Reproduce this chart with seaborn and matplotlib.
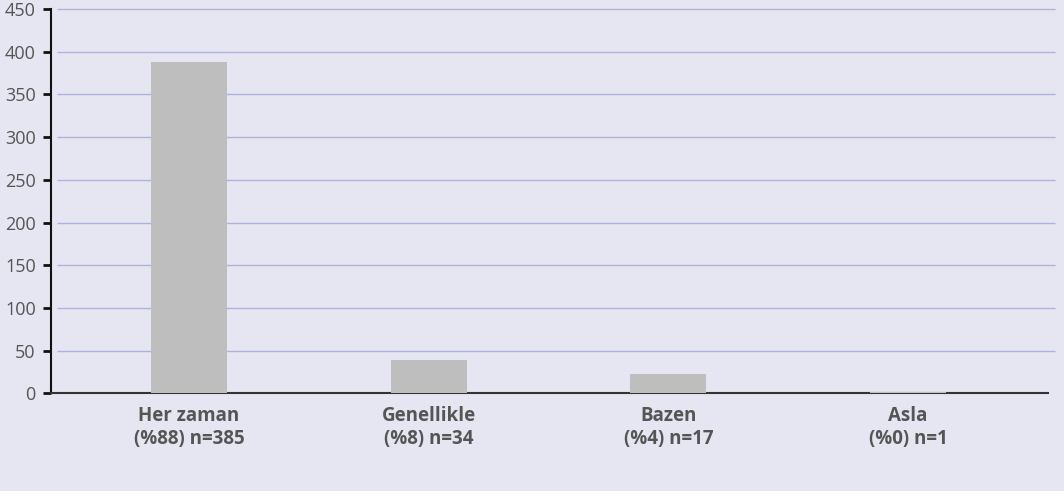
import matplotlib
matplotlib.use("Agg")
import matplotlib.pyplot as plt
import pandas as pd
import seaborn as sns

# Data
categories = ["Her zaman\n(%88) n=385", "Genellikle\n(%8) n=34", "Bazen\n(%4) n=17", "Asla\n(%0) n=1"]
values = [388, 39, 23, 1]
yticks = [0, 50, 100, 150, 200, 250, 300, 350, 400, 450]

df = pd.DataFrame({"category": categories, "value": values})

bg = "#e5e6f2"
text_color = "#555555"

sns.set_theme(style="white")
plt.rcParams["font.family"] = ["Open Sans", "DejaVu Sans"]

fig = plt.figure(figsize=(10.64, 4.91), dpi=100, facecolor=bg)
ax = fig.add_axes([51 / 1064, 1 - 393.3 / 491, 997 / 1064, 384.3 / 491])
ax.set_facecolor(bg)

sns.barplot(data=df, x="category", y="value", color="#bebebe", width=0.317,
            saturation=1, linewidth=0, ax=ax, zorder=3)

ax.set_xlim(-0.576, 3.584)
ax.set_ylim(0, 450)
ax.set_yticks(yticks)

# Grid lines, slightly offset from the y axis
grid = ax.hlines(yticks[1:], 6 / 997, 1004 / 997, transform=ax.get_yaxis_transform(),
                 colors="#adb3de", linewidth=1.0, clip_on=False, zorder=1)
grid.set_snap(True)

for side in ["top", "right"]:
    ax.spines[side].set_visible(False)
ax.spines["left"].set_color("#111111")
ax.spines["left"].set_linewidth(1.5)
ax.spines["bottom"].set_color("#333333")
ax.spines["bottom"].set_linewidth(1.5)

ax.tick_params(axis="y", left=True, length=6, width=2, color="#111111",
               labelsize=13, labelcolor=text_color, pad=5)
ax.tick_params(axis="x", bottom=False, length=0, labelsize=13.5,
               labelcolor=text_color, pad=9)
for lbl in ax.get_xticklabels():
    lbl.set_fontweight("bold")
    lbl.set_linespacing(1.2)

ax.set_xlabel("")
ax.set_ylabel("")

fig.savefig("out.png", dpi=100, facecolor=bg)
